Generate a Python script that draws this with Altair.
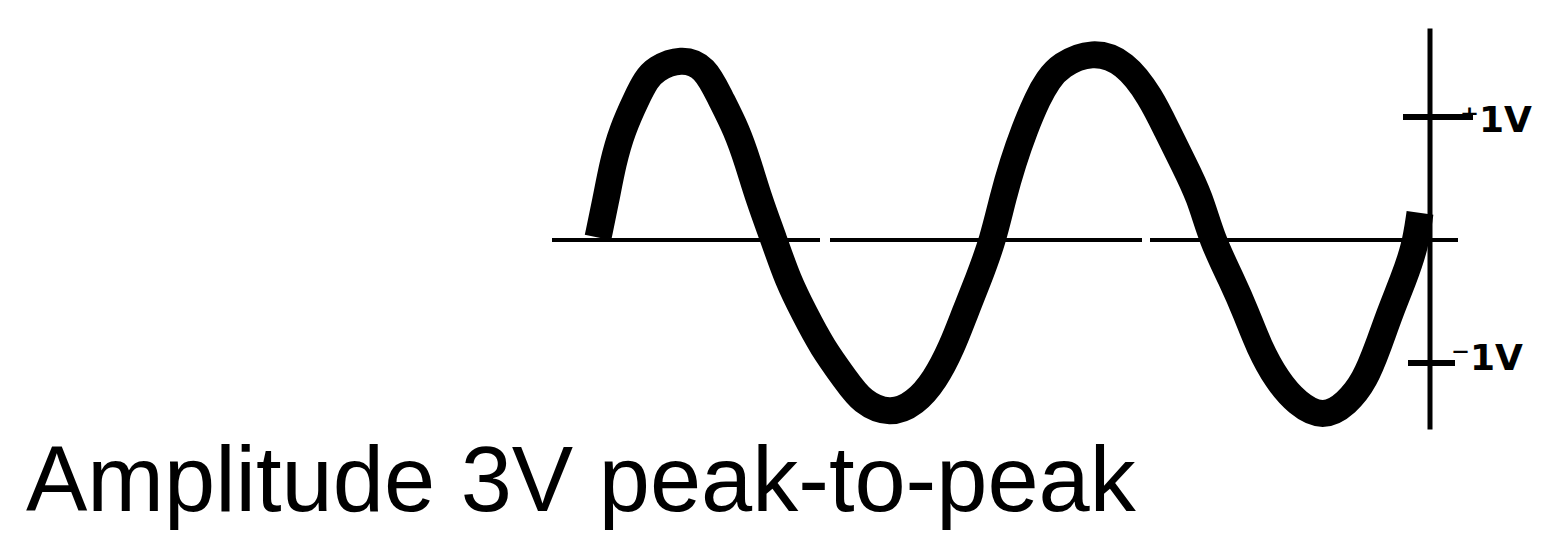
import altair as alt
import pandas as pd

# Hand-drawn sine trace: time (arbitrary units) and voltage (V)
wave_t = [0, 8, 15, 24, 39, 48, 57, 83, 107, 122, 139, 150, 161, 176,
          190, 206, 224, 248, 264, 292, 317, 337, 354, 367, 380, 395,
          405, 415, 426, 440, 450, 462, 494, 527, 553, 569, 585, 602, 614,
          634, 648, 661, 679, 699, 725, 749, 767, 780, 792, 805, 817, 822]
wave_v = [0.02, 0.33, 0.63, 0.89, 1.16, 1.30, 1.39, 1.48, 1.41, 1.16, 0.89, 0.63, 0.33, 0.00,
          -0.33, -0.59, -0.87, -1.14, -1.32, -1.42, -1.33, -1.14, -0.87, -0.59, -0.33, 0.00,
          0.35, 0.63, 0.89, 1.16, 1.30, 1.42, 1.54, 1.45, 1.16, 0.89, 0.63, 0.35, 0.00,
          -0.33, -0.59, -0.87, -1.14, -1.33, -1.45, -1.33, -1.14, -0.87, -0.59, -0.33, -0.06, 0.22]

# zero line (drawn in three pieces, as in the sketch)
base_start = [-46, 232, 552]
base_end = [222, 544, 860]

# vertical voltage scale
vaxis_t = [832]
vaxis_top = [1.72]
vaxis_bottom = [-1.54]

# +1V / -1V ticks
tick_v = [1.0, -1.0]
tick_start = [805, 810]
tick_end = [875, 857]

tick_labels = ["⁺1V", "⁻1V"]
tick_label_t = [862, 853]
tick_label_v = [0.88, -1.06]

caption = ["Amplitude 3V peak-to-peak"]
caption_t = [-572]
caption_v = [-2.20]

X_DOMAIN = [-590, 936]
Y_DOMAIN = [-2.366, 1.886]

xs = alt.Scale(domain=X_DOMAIN, nice=False, zero=False)
ys = alt.Scale(domain=Y_DOMAIN, nice=False, zero=False)

wave_df = pd.DataFrame({"t": wave_t, "v": wave_v, "i": list(range(len(wave_t)))})
base_df = pd.DataFrame({"t0": base_start, "t1": base_end, "v": [0.0] * len(base_start)})
vaxis_df = pd.DataFrame({"t": vaxis_t, "v0": vaxis_top, "v1": vaxis_bottom})
tick_df = pd.DataFrame({"t0": tick_start, "t1": tick_end, "v": tick_v})
label_df = pd.DataFrame({"t": tick_label_t, "v": tick_label_v, "label": tick_labels})
cap_df = pd.DataFrame({"t": caption_t, "v": caption_v, "label": caption})

base = alt.Chart(base_df).mark_rule(color="black", strokeWidth=4).encode(
    x=alt.X("t0:Q", scale=xs, axis=None),
    x2="t1:Q",
    y=alt.Y("v:Q", scale=ys, axis=None),
)

vaxis = alt.Chart(vaxis_df).mark_rule(color="black", strokeWidth=5).encode(
    x=alt.X("t:Q", scale=xs, axis=None),
    y=alt.Y("v0:Q", scale=ys, axis=None),
    y2="v1:Q",
)

ticks = alt.Chart(tick_df).mark_rule(color="black", strokeWidth=6).encode(
    x=alt.X("t0:Q", scale=xs, axis=None),
    x2="t1:Q",
    y=alt.Y("v:Q", scale=ys, axis=None),
)

wave = alt.Chart(wave_df).mark_line(
    color="black", strokeWidth=27, strokeCap="butt", strokeJoin="round",
    interpolate="basis"
).encode(
    x=alt.X("t:Q", scale=xs, axis=None),
    y=alt.Y("v:Q", scale=ys, axis=None),
    order="i:Q",
)

labels = alt.Chart(label_df).mark_text(
    align="left", baseline="alphabetic", font="DejaVu Sans", fontSize=36,
    fontWeight="bold", color="black"
).encode(
    x=alt.X("t:Q", scale=xs, axis=None),
    y=alt.Y("v:Q", scale=ys, axis=None),
    text="label:N",
)

cap = alt.Chart(cap_df).mark_text(
    align="left", baseline="alphabetic", font="Liberation Sans", fontSize=92, color="black"
).encode(
    x=alt.X("t:Q", scale=xs, axis=None),
    y=alt.Y("v:Q", scale=ys, axis=None),
    text="label:N",
)

chart = alt.layer(base, vaxis, ticks, wave, labels, cap).properties(
    width=1526, height=523, padding=0, background="white",
    autosize=alt.AutoSizeParams(type="none"),
).configure_view(stroke=None)

chart.save("out.html", embed_options={"renderer": "svg", "actions": False})
